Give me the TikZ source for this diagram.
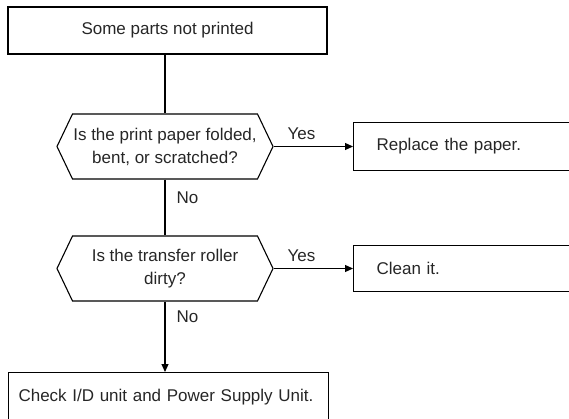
\documentclass[tikz,border=0pt]{standalone}
\usepackage{fontspec}
\setmainfont{Liberation Sans}
\usetikzlibrary{shapes.symbols, arrows.meta, positioning}

\begin{document}
\begin{tikzpicture}[x=1pt, y=-1pt,
        every node/.style={font=\fontsize{17}{23}\selectfont, text=black!85},
        flowbox/.style={draw, line width=1.1pt, rectangle, inner sep=0pt},
        query/.style={draw, line width=1.1pt, signal, signal to=west and east,
            signal pointer angle=129, minimum width=216pt, minimum height=65pt,
            inner sep=0pt, align=center},
        answer/.style={flowbox, anchor=west, align=left, text width=214pt,
            inner xsep=23pt},
        link/.style={line width=1.1pt},
        arrow/.style={link, -{Triangle[length=8pt, width=7pt]}},
        tag/.style={inner sep=1pt}]
        \useasboundingbox (0,0) rectangle (569,419);
        \clip (0,0) rectangle (569,419);

        % Start
        \node[flowbox, minimum width=319pt, minimum height=47pt] (start) at (167.5,30.5)
            {Some parts not printed};

        % Questions
        \node[query] (paper) at (165,146.5) {Is the print paper folded,\\bent, or scratched?};
        \node[query] (roller) at (165,268.5) {Is the transfer roller\\dirty?};

        % Actions
        \node[answer, minimum height=48pt] (replace) at (353,146.5) {Replace the paper.};
        \node[answer, minimum height=46pt] (clean) at (353,268.5) {Clean it.};
        \node[flowbox, anchor=north west, align=left, text width=300pt, inner xsep=10pt,
            minimum height=49pt] (check) at (8,372) {Check I/D unit and Power Supply Unit.};

        % Connectors
        \draw[link] (paper.north |- start.south) -- (paper.north);
        \draw[arrow] (paper.east) -- node[tag, above=5pt, pos=0.35] {Yes} (replace.west);
        \draw[link] (paper.south) -- node[tag, right=10pt, pos=0.32] {No} (roller.north);
        \draw[arrow] (roller.east) -- node[tag, above=5pt, pos=0.35] {Yes} (clean.west);
        \draw[arrow] (roller.south) -- node[tag, right=10pt, pos=0.22] {No} (check.north -| roller.south);
\end{tikzpicture}
\end{document}
